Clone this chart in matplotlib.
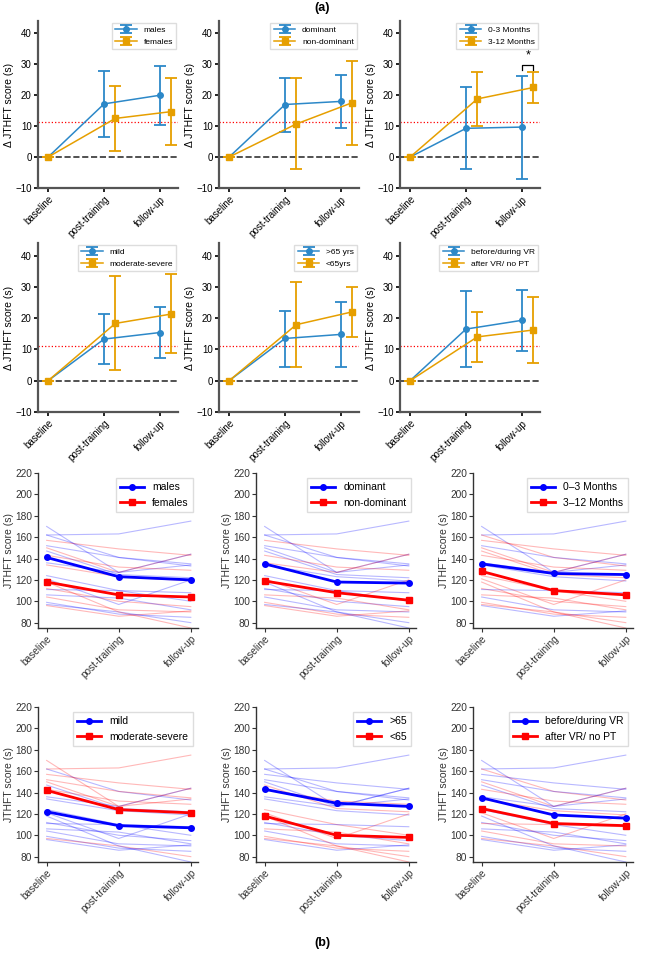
import numpy as np
import matplotlib
matplotlib.use('Agg')
import matplotlib.pyplot as plt

plt.rcParams['font.family'] = ['Liberation Sans', 'DejaVu Sans']

# ---------------- data ----------------
timepoints = ['baseline', 'post-training', 'follow-up']

# (a) change in JTHFT score: mean, lower and upper error bar end
a_labels = [('males', 'females'), ('dominant', 'non-dominant'), ('0-3 Months', '3-12 Months'),
            ('mild', 'moderate-severe'), ('>65 yrs', '<65yrs'), ('before/during VR', 'after VR/ no PT')]
a_blue_mean = [[0, 17.2, 20.0], [0, 17.0, 18.0], [0, 9.3, 9.7],
               [0, 13.3, 15.4], [0, 13.5, 14.8], [0, 16.5, 19.3]]
a_blue_lo = [[0, 6.5, 10.5], [0, 8.0, 9.5], [0, -4.0, -7.0],
             [0, 5.3, 7.3], [0, 4.5, 4.3], [0, 4.3, 9.5]]
a_blue_hi = [[0, 27.8, 29.3], [0, 25.7, 26.5], [0, 22.8, 26.2],
             [0, 21.3, 23.5], [0, 22.4, 25.3], [0, 28.8, 29.1]]
a_orange_mean = [[0, 12.5, 14.7], [0, 10.7, 17.6], [0, 18.8, 22.5],
                 [0, 18.3, 21.3], [0, 17.9, 22.0], [0, 14.0, 16.2]]
a_orange_lo = [[0, 2.0, 4.0], [0, -4.0, 4.0], [0, 10.0, 17.5],
               [0, 3.3, 8.7], [0, 4.3, 14.0], [0, 6.0, 5.5]]
a_orange_hi = [[0, 23.0, 25.5], [0, 25.5, 31.0], [0, 27.5, 27.5],
               [0, 33.3, 34.1], [0, 31.5, 29.8], [0, 22.0, 26.8]]
mcid = 11.2

# (b) individual subjects JTHFT score (s)
subj_base = [162, 170, 162, 157, 152, 150, 147, 136, 134, 124, 121, 112, 111, 106, 104, 99, 97, 96, 118, 143]
subj_post = [163, 127, 141, 149, 141, 127, 125, 127, 123, 110, 97, 100, 110, 103, 92, 88, 90, 86, 90, 132]
subj_foll = [175, 134, 133, 143, 135, 144, 122, 144, 119, 100, 120, 95, 108, 92, 90, 85, 80, 91, 75, 129]

# group membership per panel (1 = first / blue group)
b_groups = [
    [1, 1, 1, 0, 1, 0, 1, 1, 0, 1, 1, 0, 1, 1, 0, 1, 1, 0, 0, 0],
    [1, 1, 1, 0, 1, 1, 1, 0, 1, 1, 0, 1, 1, 0, 1, 0, 1, 0, 1, 0],
    [1, 1, 0, 0, 1, 0, 0, 1, 1, 0, 0, 0, 1, 0, 1, 0, 0, 1, 0, 0],
    [0, 0, 1, 0, 0, 0, 1, 1, 1, 1, 1, 1, 1, 1, 1, 1, 0, 1, 1, 0],
    [1, 1, 1, 1, 1, 1, 0, 1, 1, 0, 0, 1, 1, 0, 1, 0, 0, 1, 0, 0],
    [1, 1, 0, 1, 1, 0, 1, 1, 0, 1, 0, 1, 0, 1, 0, 1, 0, 1, 1, 0],
]
b_labels = [('males', 'females'), ('dominant', 'non-dominant'), ('0\u20133 Months', '3\u201312 Months'),
            ('mild', 'moderate-severe'), ('>65', '<65'), ('before/during VR', 'after VR/ no PT')]
b_blue_mean = [[141, 123, 120], [135, 118, 117], [135, 126, 125],
               [122, 109, 107], [143, 130, 127], [135, 119, 116]]
b_red_mean = [[118, 106, 104], [119, 108, 101], [128, 110, 106],
              [142, 124, 121], [118, 100, 98], [125, 111, 109]]

# ---------------- figure ----------------
W, H = 645, 960
fig = plt.figure(figsize=(W / 100, H / 100), dpi=100)


def px_axes(left, top, right, bottom):
    return fig.add_axes([left / W, 1 - bottom / H, (right - left) / W, (bottom - top) / H])


blue_a = '#2c88c8'
orange_a = '#e69f00'
spine_gray = '#555555'

a_lefts = [38, 219, 400]
a_rows = [(21, 188), (243, 412)]
x = np.arange(3)
for i in range(6):
    r, c = divmod(i, 3)
    ax = px_axes(a_lefts[c], a_rows[r][0], a_lefts[c] + 140, a_rows[r][1])
    bm = np.array(a_blue_mean[i]); om = np.array(a_orange_mean[i])
    berr = [bm - np.array(a_blue_lo[i]), np.array(a_blue_hi[i]) - bm]
    oerr = [om - np.array(a_orange_lo[i]), np.array(a_orange_hi[i]) - om]
    xo = x + np.array([0, 0.2, 0.2])
    ax.axhline(0, color='#333333', ls='--', lw=1.2, zorder=1)
    ax.axhline(mcid, color='red', ls=':', lw=0.9, zorder=1)
    ax.errorbar(x, bm, yerr=berr, color=blue_a, marker='o', ms=4, lw=1.1,
                elinewidth=1.3, capsize=4, capthick=1.3, label=a_labels[i][0], zorder=3)
    ax.errorbar(xo, om, yerr=oerr, color=orange_a, marker='s', ms=4, lw=1.1,
                elinewidth=1.3, capsize=4, capthick=1.3, label=a_labels[i][1], zorder=3)
    ax.set_xlim(-0.18, 2.32)
    ax.set_ylim(-10, 44)
    ax.set_yticks([-10, 0, 10, 20, 30, 40])
    ax.set_yticklabels(['\u221210', '0', '10', '20', '30', '40'])
    ax.set_xticks(x)
    ax.set_xticklabels(timepoints, rotation=45, ha='right', rotation_mode='anchor')
    for s in ['top', 'right']:
        ax.spines[s].set_visible(False)
    for s in ['left', 'bottom']:
        ax.spines[s].set_color(spine_gray)
        ax.spines[s].set_linewidth(1.6)
    ax.tick_params(labelsize=7, width=1.4, length=3, pad=1.5, color='#222222')
    ax.set_ylabel('\u0394 JTHFT score (s)', fontsize=7.5, labelpad=1)
    ax.legend(loc='upper right', fontsize=6, frameon=True, framealpha=1,
              edgecolor='#dddddd', fancybox=False, borderpad=0.4, handlelength=2.6,
              borderaxespad=0.2)
    if i == 2:
        ax.plot([2.0, 2.0, 2.2, 2.2], [28.2, 29.7, 29.7, 28.2], color='black', lw=0.9)
        ax.text(2.1, 31, '*', ha='center', va='bottom', fontsize=9)

fig.text(0.5, 1 - 8 / H, '(a)', ha='center', va='center', fontsize=9, fontweight='bold')

# ---------------- (b) ----------------
b_lefts = [38, 256, 473]
b_rows = [(473, 628), (707, 862)]
for i in range(6):
    r, c = divmod(i, 3)
    ax = px_axes(b_lefts[c], b_rows[r][0], b_lefts[c] + 160, b_rows[r][1])
    for k in range(len(subj_base)):
        col = 'blue' if b_groups[i][k] else 'red'
        ax.plot(x, [subj_base[k], subj_post[k], subj_foll[k]], color=col, alpha=0.28, lw=0.8, zorder=1)
    ax.plot(x, b_blue_mean[i], color='blue', marker='o', ms=4, lw=2, label=b_labels[i][0], zorder=3)
    ax.plot(x, b_red_mean[i], color='red', marker='s', ms=4, lw=2, label=b_labels[i][1], zorder=3)
    ax.set_xlim(-0.12, 2.1)
    ax.set_ylim(75, 220)
    ax.set_yticks(range(80, 221, 20))
    ax.set_xticks(x)
    ax.set_xticklabels(timepoints, rotation=45, ha='right', rotation_mode='anchor')
    for s in ['top', 'right']:
        ax.spines[s].set_visible(False)
    for s in ['left', 'bottom']:
        ax.spines[s].set_color('#333333')
        ax.spines[s].set_linewidth(1.0)
    ax.tick_params(labelsize=7.3, width=0.8, length=3, pad=1.2, color='#333333', labelcolor='#333333')
    ax.set_ylabel('JTHFT score (s)', fontsize=7.5, color='#333333', labelpad=0.8)
    ax.legend(loc='upper right', fontsize=7.5, frameon=True, framealpha=1,
              edgecolor='#dddddd', fancybox=False, handlelength=2.3)

fig.text(0.5, 1 - 943 / H, '(b)', ha='center', va='center', fontsize=9, fontweight='bold')

fig.savefig('out.png', dpi=100)
